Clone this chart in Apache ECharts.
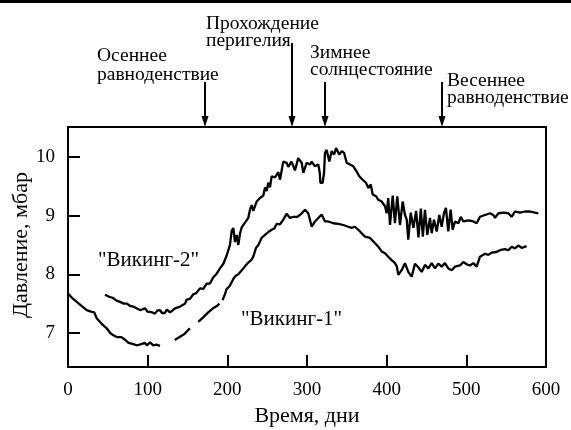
<!DOCTYPE html>
<html><head><meta charset="utf-8">
<script src="https://cdn.jsdelivr.net/npm/echarts@6/dist/echarts.min.js"></script>
<style>html,body{margin:0;padding:0;background:#fff}#c{width:571px;height:430px}</style>
</head><body><div id="c"></div>
<script>
// ---- data ----
const xTickValues = [0, 100, 200, 300, 400, 500, 600];
const yTickValues = [7, 8, 9, 10];
const xAxisTitle = 'Время, дни';
const yAxisTitle = 'Давление, мбар';

const viking1Days = [0,5,11,17,23.5,29.7,33,36,42,48.6,53,57,61,67,72,76,82,86,90,92.5,96.6,99,103,107,111,115.5,
  125,
  134,140,146,153,
  158,
  163.6,170,176,182,187,190,
  192,
  194,197,199.2,203,207.5,210,213.8,217,220,223,226.3,230,232.6,236,238.9,243,245.1,248,251.4,255.7,259,262,266,270.2,274.4,278.6,283,288,292,297.5,301.6,305.9,310,314.2,318.4,322.6,326.7,333,339.3,345.6,351.8,356,360.2,366.5,372.8,379,385.4,389.5,393.7,397.9,402,406.3,410.4,412.6,414.6,418.8,423,427.1,431.4,435.5,439.7,444,448.1,452.3,456.5,460.7,464.8,469,473.2,477.3,481.6,485.8,492,496.2,500.4,504.6,508.8,513,517.1,523.4,527.6,531.8,538,542.2,548.5,552.7,556.9,561,565.2,569.5,575.7];
const viking1Pressure = [7.67,7.60,7.53,7.46,7.39,7.36,7.35,7.25,7.16,7.08,7.00,6.96,6.93,6.93,6.88,6.83,6.81,6.79,6.80,6.77,6.83,6.79,6.84,6.79,6.80,6.78,
  null,
  6.88,6.93,6.98,7.08,
  null,
  7.19,7.27,7.35,7.42,7.46,7.50,
  null,
  7.56,7.66,7.75,7.80,7.92,7.97,8.00,8.05,8.10,8.15,8.20,8.24,8.30,8.45,8.50,8.62,8.60,8.68,8.72,8.76,8.78,8.86,8.85,8.93,9.03,8.96,8.98,8.98,9.02,9.10,9.04,8.81,8.90,8.96,9.02,8.90,8.90,8.87,8.86,8.84,8.81,8.79,8.81,8.73,8.64,8.62,8.53,8.47,8.39,8.36,8.30,8.24,8.19,8.14,7.99,8.07,8.19,8.04,7.96,8.18,8.12,8.04,8.16,8.10,8.19,8.10,8.18,8.13,8.19,8.10,8.07,8.13,8.15,8.21,8.17,8.15,8.19,8.13,8.30,8.35,8.33,8.37,8.38,8.41,8.43,8.41,8.47,8.44,8.49,8.45,8.48];

const viking2Days = [46.4,51,56,61,65.3,70,74,78,82,86,90.4,93,96.6,100,102.9,106,109.2,112,115.5,118,121.7,124,126,128,131,134.3,140.6,146.9,149,153.1,157.3,161,165.7,169.8,174.1,178,182.4,186.6,190.8,195,199.2,203.3,205.5,207.5,209.6,211.7,213.8,216,218,222.2,226.3,228.4,230.5,232.6,236.8,241,245.1,247.3,249.4,251.4,253.5,255.7,259.8,264,266.1,270.2,272.4,274.4,276.5,280.6,284.9,289,293.3,295.4,299.5,303.7,305.9,310,314.2,316,316.8,319.6,321.4,322.6,324.7,328,331,334,336.4,340.6,343.6,346.5,349.8,354,358.1,362.4,365.6,369.9,374,377,380,382.5,386.7,389.5,393.7,397.9,400,402,404.2,407.6,410.4,413.3,416.7,420.1,423,425.2,427.1,430.2,433.6,437,439.9,442.9,445.4,448.1,451,454.4,456.5,459.4,462.8,466.1,469,471.9,474.4,477.3,480.3,482.8,485.8,490,493,496.2,502.5,508.8,513,517.1,523.4,529.7,533.9,536,540.2,546.5,552.7,556.9,561,567.4,573.6,579.9,586.2,590.4];
const viking2Pressure = [7.65,7.62,7.60,7.55,7.53,7.50,7.50,7.46,7.45,7.42,7.39,7.40,7.42,7.36,7.36,7.35,7.33,7.38,7.39,7.34,7.34,7.40,7.40,7.35,7.38,7.42,7.45,7.50,7.57,7.58,7.66,7.68,7.76,7.75,7.84,7.84,7.95,8.01,8.10,8.18,8.32,8.50,8.74,8.79,8.55,8.67,8.50,8.70,8.80,8.88,8.96,9.10,9.18,9.08,9.24,9.30,9.34,9.48,9.42,9.56,9.48,9.67,9.65,9.74,9.61,9.92,9.95,9.90,9.83,9.92,9.77,9.98,9.90,9.73,9.90,9.87,9.92,9.84,9.87,9.73,9.56,9.56,9.73,10.07,10.12,9.92,10.10,10.04,10.15,10.04,10.10,10.07,9.90,9.87,9.84,9.75,9.67,9.61,9.56,9.47,9.53,9.36,9.33,9.27,9.24,9.16,9.04,9.30,8.84,9.34,8.87,9.33,8.84,9.24,9.01,8.93,8.59,9.05,8.79,9.08,8.63,9.12,8.64,9.10,8.67,8.96,8.70,8.93,8.73,9.01,8.81,9.04,9.13,8.73,9.10,8.76,8.90,8.87,8.98,8.90,8.92,8.90,8.87,8.98,9.01,9.04,9.01,8.96,9.04,9.05,9.04,8.98,9.07,9.05,9.07,9.07,9.05,9.04];

const seriesNames = ['"Викинг-1"', '"Викинг-2"'];
const eventDays = [172, 281, 323, 470];
const eventLabels = [['Осеннее','равноденствие'], ['Прохождение','перигелия'], ['Зимнее','солнцестояние'], ['Весеннее','равноденствие']];

// ---- chart ----
const FONT = '"Liberation Serif", "DejaVu Serif", serif';
const FS = 19;
const zip = (xs, ys) => xs.map((x, i) => [x, ys[i] === null ? '-' : ys[i]]);

const chart = echarts.init(document.getElementById('c'), null, {renderer: 'canvas'});
const GRID = {left: 68, right: 25, top: 127, bottom: 63};

chart.setOption({
  animation: false,
  backgroundColor: '#fff',
  textStyle: {fontFamily: FONT},
  grid: Object.assign({show: true, borderColor: '#000', borderWidth: 2, backgroundColor: 'transparent', containLabel: false}, GRID),
  xAxis: {
    type: 'value', min: 0, max: 600, interval: 100,
    axisLine: {lineStyle: {color: '#000', width: 2}},
    axisTick: {inside: true, length: 12, lineStyle: {color: '#000', width: 2}},
    axisLabel: {color: '#000', fontFamily: FONT, fontSize: FS, margin: 14},
    splitLine: {show: false}
  },
  yAxis: {
    type: 'value', min: 6.42, max: 10.51,
    axisLine: {show: true, lineStyle: {color: '#000', width: 2}},
    axisTick: {show: true, inside: true, length: 12, customValues: yTickValues, lineStyle: {color: '#000', width: 2}},
    axisLabel: {color: '#000', fontFamily: FONT, fontSize: FS, margin: 13, customValues: yTickValues},
    splitLine: {show: false}
  },
  series: [
    {name: seriesNames[0], type: 'line', data: zip(viking1Days, viking1Pressure), showSymbol: false, connectNulls: false,
     lineStyle: {color: '#000', width: 2.3}},
    {name: seriesNames[1], type: 'line', data: zip(viking2Days, viking2Pressure), showSymbol: false, connectNulls: false,
     lineStyle: {color: '#000', width: 2.3}}
  ]
});

// annotations
const topY = GRID.top;
const arrowStart = [82, 43, 82, 82];
const labelPos = [
  [[97, 62], [97, 81]],
  [[206, 30], [206, 47]],
  [[310, 59], [310, 76]],
  [[447, 87], [447, 104]]
];
const g = [];
g.push({type: 'rect', shape: {x: 0, y: 0, width: 571, height: 3}, style: {fill: '#000'}, silent: true});
function txt(x, y, t, size, extra) {
  return Object.assign({type: 'text', x: x, y: y, silent: true,
    style: {text: t, fontFamily: FONT, fontSize: size, fill: '#000', align: 'left', verticalAlign: 'middle'}}, extra || {});
}
eventDays.forEach((d, i) => {
  const px = Math.round(chart.convertToPixel({xAxisIndex: 0}, d));
  g.push({type: 'line', shape: {x1: px, y1: arrowStart[i], x2: px, y2: topY - 8}, style: {stroke: '#000', lineWidth: 2}, silent: true});
  g.push({type: 'polygon', shape: {points: [[px - 3.5, topY - 11], [px + 3.5, topY - 11], [px, topY]]}, style: {fill: '#000'}, silent: true});
  eventLabels[i].forEach((t, j) => {
    const p = labelPos[i][j];
    g.push(txt(p[0], p[1] - 6, t, 19.5));
  });
});
// series labels
g.push(txt(98, 260, seriesNames[1], 21));
g.push(txt(241, 319, seriesNames[0], 21));
// axis titles
const xt = txt(307, 416, xAxisTitle, 22); xt.style.align = 'center';
g.push(xt);
const yt = txt(21, 245, yAxisTitle, 22, {rotation: Math.PI / 2}); yt.style.align = 'center';
g.push(yt);
chart.setOption({graphic: g});
</script>
</body></html>
